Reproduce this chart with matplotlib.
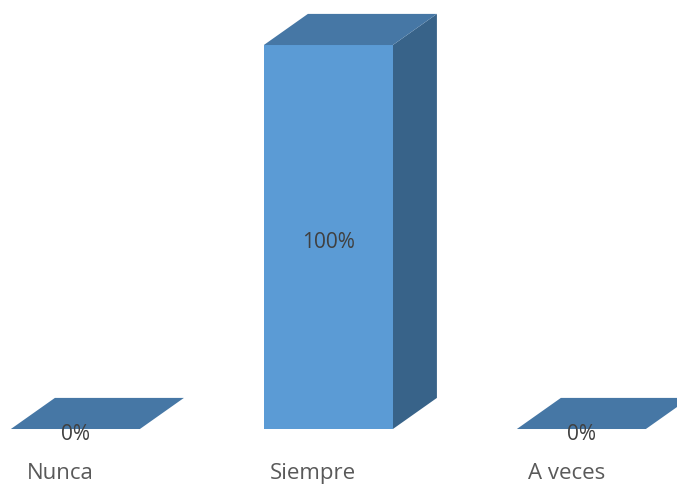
import matplotlib
matplotlib.use('Agg')
import matplotlib.pyplot as plt
from matplotlib.patches import Polygon

plt.rcParams['font.family'] = ['Open Sans', 'DejaVu Sans']

# datos
categorias = ['Nunca', 'Siempre', 'A veces']
valores = [0, 100, 0]
etiquetas = ['0%', '100%', '0%']

# colores de las caras
c_frente = '#5B9BD5'
c_arriba = '#4677A5'
c_lado = '#386389'

ancho = 0.51      # ancho de la barra (unidades de categoria)
prof_x = 0.174    # desplazamiento de profundidad en x
prof_y = 8.1      # desplazamiento de profundidad en y

fig = plt.figure(figsize=(6.77, 4.85), dpi=100)
ax = fig.add_axes([0, 0, 1, 1])
ax.set_xlim(-0.298, 2.378)
ax.set_ylim(-14.32, 111.98)
ax.axis('off')

for i, (cat, v, et) in enumerate(zip(categorias, valores, etiquetas)):
    x0 = i - ancho / 2
    x1 = i + ancho / 2
    # cara lateral
    ax.add_patch(Polygon([(x1, 0), (x1 + prof_x, prof_y), (x1 + prof_x, v + prof_y), (x1, v)],
                         closed=True, facecolor=c_lado, edgecolor='none'))
    # cara frontal
    if v > 0:
        ax.add_patch(Polygon([(x0, 0), (x1, 0), (x1, v), (x0, v)],
                             closed=True, facecolor=c_frente, edgecolor='none'))
    # cara superior
    ax.add_patch(Polygon([(x0, v), (x1, v), (x1 + prof_x, v + prof_y), (x0 + prof_x, v + prof_y)],
                         closed=True, facecolor=c_arriba, edgecolor='none'))
    ax.text(i, v / 2 - 1.2, et, ha='center', va='center', fontsize=15, color='#404040')
    ax.text(i - 0.06, -11.3, cat, ha='center', va='center', fontsize=16, color='#595959')

fig.savefig('out.png', dpi=100)
